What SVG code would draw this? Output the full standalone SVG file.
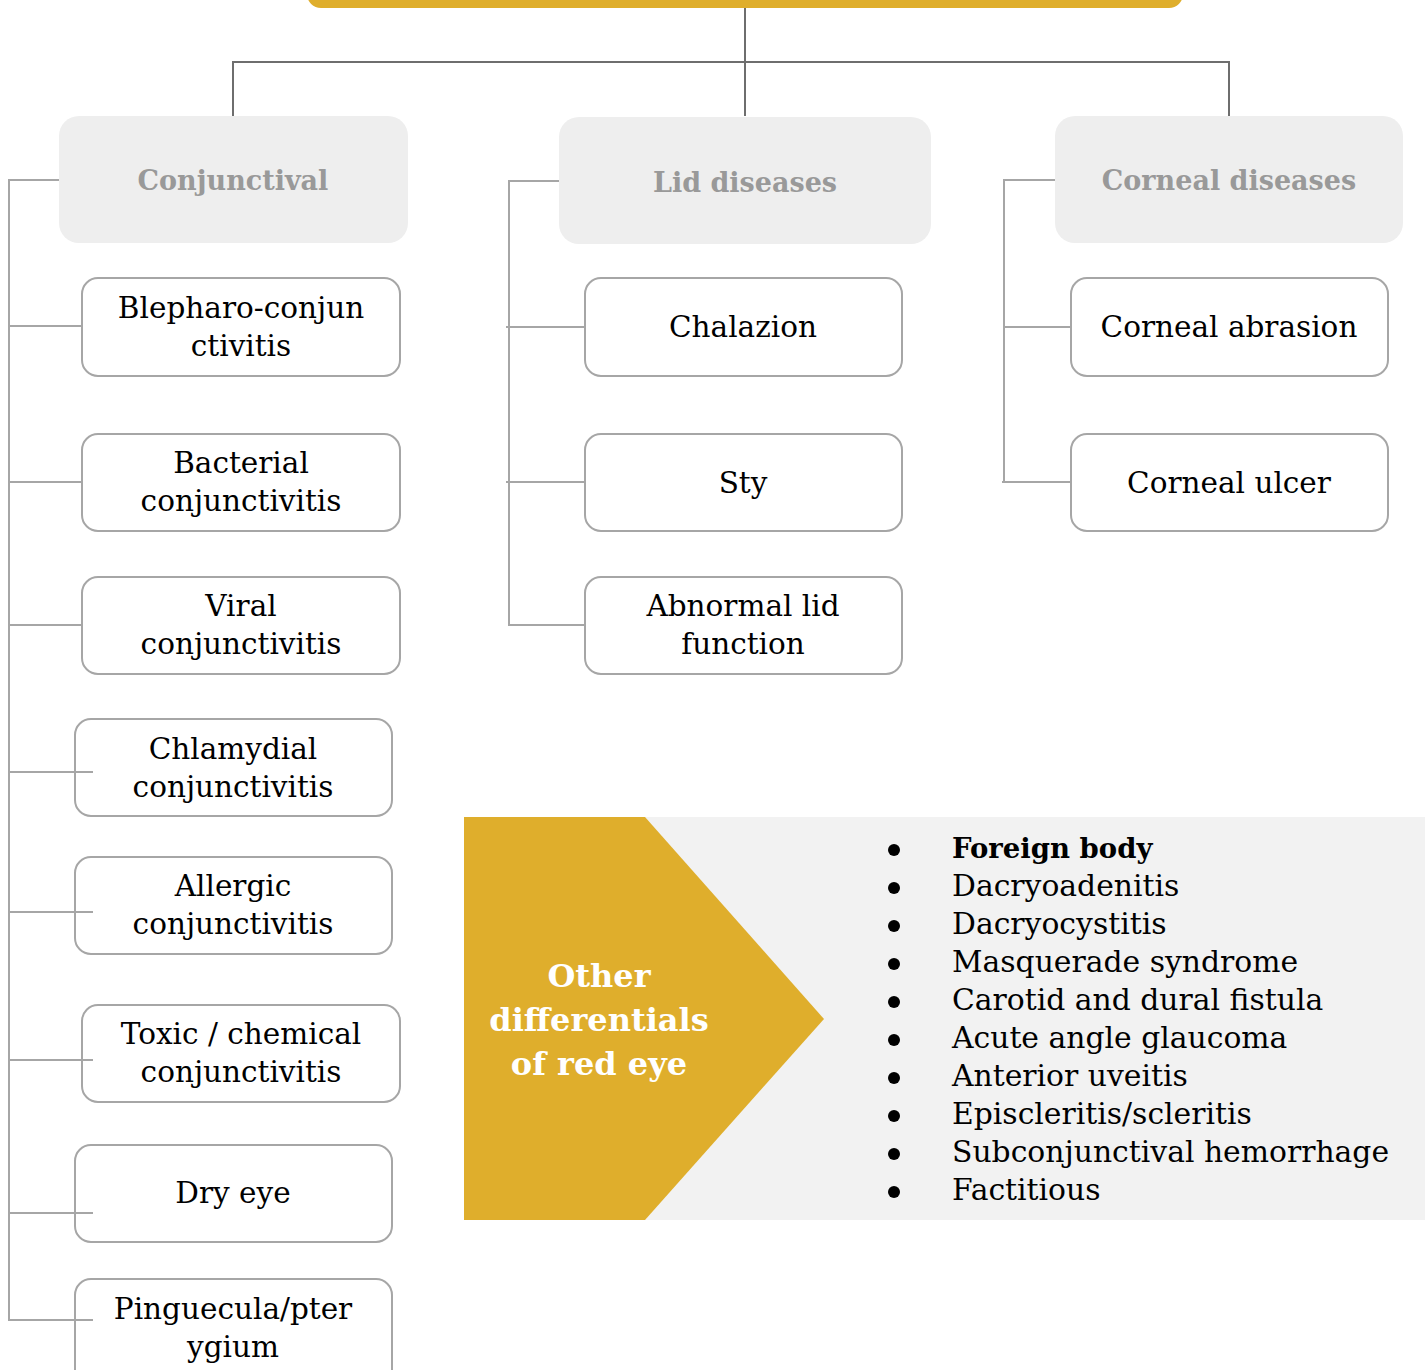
<svg xmlns="http://www.w3.org/2000/svg" width="1428" height="1370" viewBox="0 0 1428 1370">
<style>
.hdr{fill:#eeeeee}
.hdrt{font-family:"DejaVu Serif","Liberation Serif",serif;font-weight:bold;font-size:27px;fill:#999999;text-anchor:middle}
.box{fill:none;stroke:#a6a6a6;stroke-width:2}
.bt{font-family:"DejaVu Serif","Liberation Serif",serif;font-size:29.5px;fill:#000;text-anchor:middle}
.top{fill:none;stroke:#6e6e6e;stroke-width:2}
.con{fill:none;stroke:#a6a6a6;stroke-width:2}
.li{font-family:"DejaVu Serif","Liberation Serif",serif;font-size:29.8px;fill:#000}
.lib{font-family:"DejaVu Serif","Liberation Serif",serif;font-size:27.5px;font-weight:bold;fill:#000}
.wt{font-family:"DejaVu Serif","Liberation Serif",serif;font-weight:bold;font-size:32px;fill:#fff;text-anchor:middle}
</style>
<rect width="1428" height="1370" fill="#fff"/>
<g id="root"><rect x="307" y="-60" width="876" height="68" rx="14" fill="#dfae2c"/></g>
<g id="connectors">
<path class="top" d="M745 8V116M233 116V62H1229V116"/>
<path class="con" d="M59 180H9V1320H93M9 326H81M9 482H81M9 625H81M9 772H93M9 912H93M9 1060H93M9 1213H93"/>
<path class="con" d="M559 181H509V625H584M506 327H584M506 482H584"/>
<path class="con" d="M1055 180H1004V482H1070M1002 482H1004M1004 327H1070"/>
</g>
<g id="conjunctival"><rect class="hdr" x="59" y="116" width="349" height="127" rx="20"/><text class="hdrt" x="233" y="190">Conjunctival</text></g>
<g id="lid-diseases"><rect class="hdr" x="559" y="117" width="372" height="127" rx="20"/><text class="hdrt" x="745" y="192">Lid diseases</text></g>
<g id="corneal-diseases"><rect class="hdr" x="1055" y="116" width="348" height="127" rx="20"/><text class="hdrt" x="1229" y="190">Corneal diseases</text></g>
<g id="blepharo"><rect class="box" x="82" y="278" width="318" height="98" rx="16"/><text class="bt" x="241" y="318">Blepharo-conjun</text><text class="bt" x="241" y="356">ctivitis</text></g>
<g id="bacterial"><rect class="box" x="82" y="434" width="318" height="97" rx="16"/><text class="bt" x="241" y="473">Bacterial</text><text class="bt" x="241" y="511">conjunctivitis</text></g>
<g id="viral"><rect class="box" x="82" y="577" width="318" height="97" rx="16"/><text class="bt" x="241" y="616">Viral</text><text class="bt" x="241" y="654">conjunctivitis</text></g>
<g id="chlamydial"><rect class="box" x="75" y="719" width="317" height="97" rx="16"/><text class="bt" x="233" y="759">Chlamydial</text><text class="bt" x="233" y="797">conjunctivitis</text></g>
<g id="allergic"><rect class="box" x="75" y="857" width="317" height="97" rx="16"/><text class="bt" x="233" y="896">Allergic</text><text class="bt" x="233" y="934">conjunctivitis</text></g>
<g id="toxic"><rect class="box" x="82" y="1005" width="318" height="97" rx="16"/><text class="bt" x="241" y="1044">Toxic / chemical</text><text class="bt" x="241" y="1082">conjunctivitis</text></g>
<g id="dry-eye"><rect class="box" x="75" y="1145" width="317" height="97" rx="16"/><text class="bt" x="233" y="1203">Dry eye</text></g>
<g id="pinguecula"><rect class="box" x="75" y="1279" width="317" height="110" rx="16"/><text class="bt" x="233" y="1319">Pinguecula/pter</text><text class="bt" x="233" y="1357">ygium</text></g>
<g id="chalazion"><rect class="box" x="585" y="278" width="317" height="98" rx="16"/><text class="bt" x="743" y="337">Chalazion</text></g>
<g id="sty"><rect class="box" x="585" y="434" width="317" height="97" rx="16"/><text class="bt" x="743" y="493">Sty</text></g>
<g id="abnormal-lid"><rect class="box" x="585" y="577" width="317" height="97" rx="16"/><text class="bt" x="743" y="616">Abnormal lid</text><text class="bt" x="743" y="654">function</text></g>
<g id="corneal-abrasion"><rect class="box" x="1071" y="278" width="317" height="98" rx="16"/><text class="bt" x="1229" y="337">Corneal abrasion</text></g>
<g id="corneal-ulcer"><rect class="box" x="1071" y="434" width="317" height="97" rx="16"/><text class="bt" x="1229" y="493">Corneal ulcer</text></g>
<g id="other-differentials">
<rect x="464" y="817" width="961" height="403" fill="#f2f2f2"/>
<polygon points="464,817 645,817 824,1019 645,1220 464,1220" fill="#dfae2c"/>
<text class="wt" x="599" y="987">Other</text>
<text class="wt" x="599" y="1031">differentials</text>
<text class="wt" x="599" y="1075">of red eye</text>
<g fill="#000">
<circle cx="894" cy="850" r="6"/><circle cx="894" cy="888" r="6"/><circle cx="894" cy="926" r="6"/><circle cx="894" cy="964" r="6"/><circle cx="894" cy="1002" r="6"/><circle cx="894" cy="1040" r="6"/><circle cx="894" cy="1078" r="6"/><circle cx="894" cy="1116" r="6"/><circle cx="894" cy="1154" r="6"/><circle cx="894" cy="1192" r="6"/>
</g>
<text class="lib" x="952" y="858">Foreign body</text>
<text class="li" x="952" y="896">Dacryoadenitis</text>
<text class="li" x="952" y="934">Dacryocystitis</text>
<text class="li" x="952" y="972">Masquerade syndrome</text>
<text class="li" x="952" y="1010">Carotid and dural fistula</text>
<text class="li" x="952" y="1048">Acute angle glaucoma</text>
<text class="li" x="952" y="1086">Anterior uveitis</text>
<text class="li" x="952" y="1124">Episcleritis/scleritis</text>
<text class="li" x="952" y="1162">Subconjunctival hemorrhage</text>
<text class="li" x="952" y="1200">Factitious</text>
</g>
</svg>
